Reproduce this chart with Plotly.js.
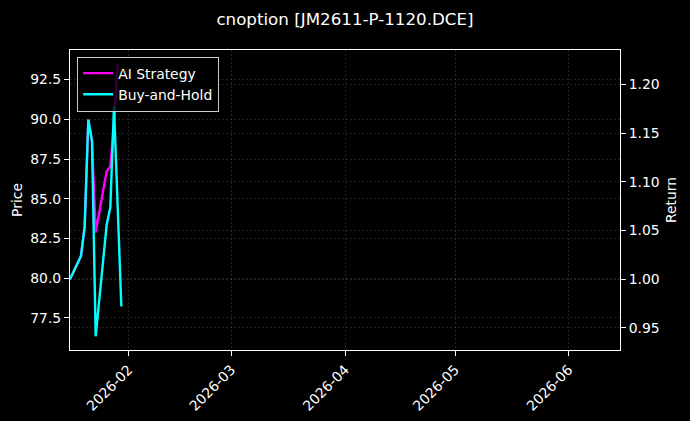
<!DOCTYPE html>
<html>
<head>
<meta charset="utf-8">
<script src="https://cdn.plot.ly/plotly-3.0.1.min.js"></script>
<style>html,body{margin:0;padding:0;background:#000;}#chart{width:690px;height:421px;}</style>
</head>
<body>
<div id="chart"></div>
<script>
// Data
const dates = ["2026-01-16","2026-01-19","2026-01-20","2026-01-21","2026-01-22","2026-01-23","2026-01-26","2026-01-27","2026-01-28","2026-01-29","2026-01-30"];
const aiReturn = [1.000, 1.024, 1.054, 1.164, 1.142, 1.048, 1.111, 1.116, 1.160, 1.222];
const bhReturn = [1.000, 1.024, 1.054, 1.164, 1.142, 0.9415, 1.056, 1.074, 1.178, 1.070, 0.972];
const xTickVals = ["2026-02-01","2026-03-01","2026-04-01","2026-05-01","2026-06-01"];
const priceTicks = [77.5, 80.0, 82.5, 85.0, 87.5, 90.0, 92.5];
const returnTicks = [0.95, 1.00, 1.05, 1.10, 1.15, 1.20];
const titleText = "cnoption [JM2611-P-1120.DCE]";

const font = "DejaVu Sans, Liberation Sans, sans-serif";
const gridCol = "rgba(140,140,140,0.4)";
const fs = 13.9;

const traces = [
  // empty price trace so the left (Price) axis is drawn
  {x: [], y: [], type: "scatter", mode: "lines", showlegend: false, hoverinfo: "skip", yaxis: "y"},
  {x: dates.slice(0, aiReturn.length), y: aiReturn, name: "AI Strategy", type: "scatter", mode: "lines",
   line: {color: "#ff00ff", width: 2.4}, yaxis: "y2"},
  {x: dates, y: bhReturn, name: "Buy-and-Hold", type: "scatter", mode: "lines",
   line: {color: "#00ffff", width: 2.4}, yaxis: "y2"}
];

const axisCommon = {
  showline: true, linecolor: "#fff", linewidth: 1,
  ticks: "outside", ticklen: 5, tickcolor: "#fff", tickwidth: 1,
  showgrid: true, gridcolor: gridCol, griddash: "2px,2px", gridwidth: 0.6,
  zeroline: false, tickfont: {size: fs, color: "#fff", family: font}
};

const layout = {
  width: 690, height: 421,
  paper_bgcolor: "#000", plot_bgcolor: "#000",
  font: {family: font, color: "#fff", size: fs},
  margin: {l: 70, r: 70, t: 50, b: 71, pad: 0},
  title: {text: titleText, x: 0.5, xanchor: "center", y: 0.955, yanchor: "middle",
          font: {size: 16.7, color: "#fff", family: font}},
  showlegend: true,
  legend: {x: 0.013, y: 0.978, xanchor: "left", yanchor: "top",
           bgcolor: "rgba(0,0,0,0.8)", bordercolor: "#cccccc", borderwidth: 1,
           font: {size: fs, color: "#fff", family: font}, tracegroupgap: 0},
  xaxis: Object.assign({}, axisCommon, {type: "date", range: ["2026-01-16", "2026-06-15"],
          tickvals: xTickVals, tickformat: "%Y-%m", tickangle: -45, mirror: true}),
  yaxis: Object.assign({}, axisCommon, {range: [75.48, 94.36], tickvals: priceTicks, tickformat: ".1f",
          mirror: true, title: {text: "Price", font: {size: fs, color: "#fff", family: font}, standoff: 4}}),
  yaxis2: Object.assign({}, axisCommon, {overlaying: "y", side: "right", range: [0.9274, 1.2355],
           tickvals: returnTicks, tickformat: ".2f",
           title: {text: "Return", font: {size: fs, color: "#fff", family: font}, standoff: 7}})
};

Plotly.newPlot("chart", traces, layout, {displayModeBar: false, staticPlot: true});
</script>
</body>
</html>
